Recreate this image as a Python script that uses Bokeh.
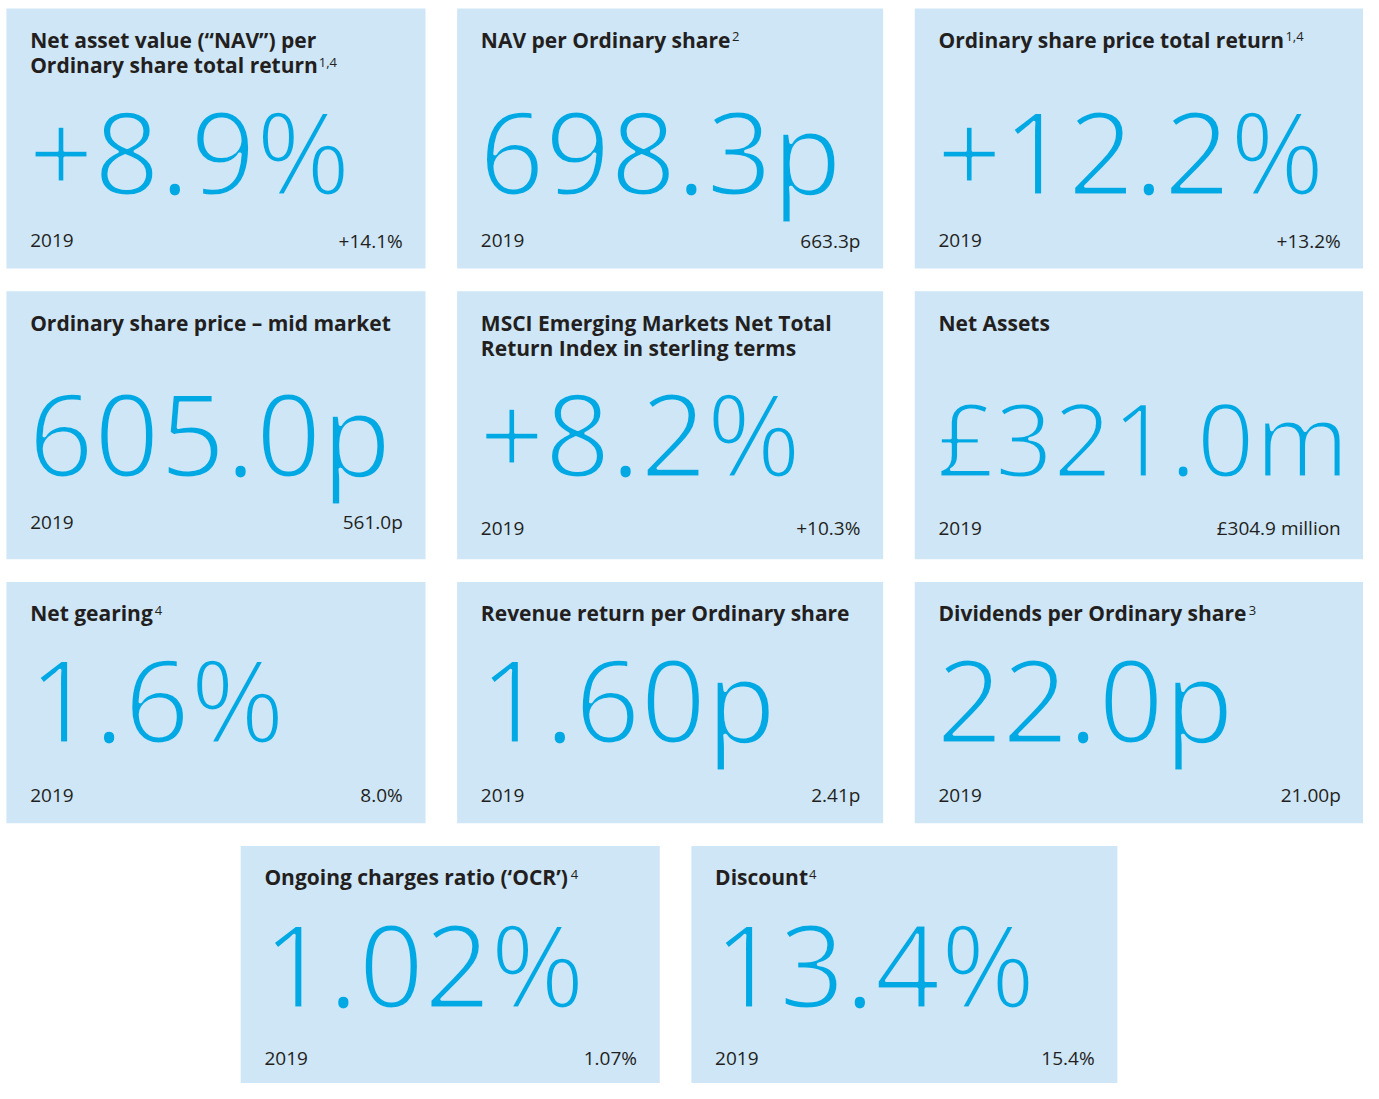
from bokeh.plotting import figure
from bokeh.models import ColumnDataSource, Range1d, CustomJS
from bokeh.document import Document
from bokeh.core.properties import value
from bokeh.embed import file_html
from bokeh.resources import INLINE

# ---- data ----
titles_line1 = [
    "Net asset value (\u201cNAV\u201d) per",
    "NAV per Ordinary share",
    "Ordinary share price total return",
    "Ordinary share price \u2013 mid market",
    "MSCI Emerging Markets Net Total",
    "Net Assets",
    "Net gearing",
    "Revenue return per Ordinary share",
    "Dividends per Ordinary share",
    "Ongoing charges ratio (\u2018OCR\u2019)",
    "Discount",
]
titles_line2 = [
    "Ordinary share total return",
    "", "", "",
    "Return Index in sterling terms",
    "", "", "", "", "", "",
]
footnotes = ["1,4", "2", "1,4", "", "", "", "4", "", "3", "4", "4"]
values_2020 = ["+8.9%", "698.3p", "+12.2%", "605.0p", "+8.2%", "\u00a3321.0m",
               "1.6%", "1.60p", "22.0p", "1.02%", "13.4%"]
values_2019 = ["+14.1%", "663.3p", "+13.2%", "561.0p", "+10.3%", "\u00a3304.9 million",
               "8.0%", "2.41p", "21.00p", "1.07%", "15.4%"]
prior_year = "2019"

# ---- layout (reference pixel space) ----
col_l = [6, 462, 925]
col_r = [430, 893, 1379]
row_t = [8, 295, 590, 858]
row_b = [272, 567, 835, 1099]
tile_left = col_l * 3 + [243, 699]
tile_right = col_r * 3 + [667, 1130]
tile_top = [row_t[0]] * 3 + [row_t[1]] * 3 + [row_t[2]] * 3 + [row_t[3]] * 2
tile_bottom = [row_b[0]] * 3 + [row_b[1]] * 3 + [row_b[2]] * 3 + [row_b[3]] * 2
big_off = [189] * 3 + [188] * 3 + [163] * 3 + [164] * 2
foot_off = [243] * 3 + [242, 248, 248] + [224] * 3 + [223] * 2
big_size = [115] * 5 + [102] + [115] * 5
# superscript x positions (end of the title line)
sup_x = [322, 740, 1300, 0, 0, 0, 156, 0, 1263, 577, 818]

BG = "#cfe6f7"
CYAN = "#00a8e4"
DARK = "#231f20"
TITLE_FONT = "Open Sans"
BIG_FONT = "Open Sans"
FOOT_FONT = "Open Sans"

TITLE_FS, FOOT_FS, SUP_FS = 21, 19, 13
K = 0.39  # baseline correction (fraction of em)

W, H = 1363, 1083
p = figure(width=W, height=H, output_backend="svg", toolbar_location=None,
           x_range=Range1d(0, 1379), y_range=Range1d(1099, 0),
           min_border=0, outline_line_color=None, background_fill_color="white",
           border_fill_color="white")
p.axis.visible = False
p.grid.visible = False

n = len(values_2020)
tiles = ColumnDataSource(dict(left=tile_left, right=tile_right, top=tile_top, bottom=tile_bottom))
p.quad(left="left", right="right", top="top", bottom="bottom", source=tiles,
       fill_color=BG, line_color=None)


def base(y, fs):
    return y - K * fs


# titles
t1 = ColumnDataSource(dict(x=[l + 24 for l in tile_left],
                           y=[base(t + 40, TITLE_FS) for t in tile_top], text=titles_line1))
p.text(x="x", y="y", text="text", source=t1, text_font=value(TITLE_FONT), text_font_size=f"{TITLE_FS}px",
       text_font_style="bold", text_color=DARK, text_baseline="alphabetic", text_align="left")
idx2 = [i for i in range(n) if titles_line2[i]]
t2 = ColumnDataSource(dict(x=[tile_left[i] + 24 for i in idx2],
                           y=[base(tile_top[i] + 66, TITLE_FS) for i in idx2],
                           text=[titles_line2[i] for i in idx2]))
p.text(x="x", y="y", text="text", source=t2, text_font=value(TITLE_FONT), text_font_size=f"{TITLE_FS}px",
       text_font_style="bold", text_color=DARK, text_baseline="alphabetic", text_align="left")

# superscripts
idxs = [i for i in range(n) if footnotes[i]]
sup_y = []
for i in idxs:
    b = tile_top[i] + (66 if titles_line2[i] else 40)
    sup_y.append(base(b - 6, SUP_FS))
ts = ColumnDataSource(dict(x=[sup_x[i] for i in idxs], y=sup_y, text=[footnotes[i] for i in idxs]))
p.text(x="x", y="y", text="text", source=ts, text_font=value(FOOT_FONT), text_font_size=f"{SUP_FS}px",
       text_color=DARK, text_baseline="alphabetic", text_align="left")

# big values
tb = ColumnDataSource(dict(x=[l + 22 for l in tile_left],
                           y=[base(t + o, s) for t, o, s in zip(tile_top, big_off, big_size)],
                           text=values_2020, fs=[f"{s}px" for s in big_size]))
p.text(x="x", y="y", text="text", source=tb, text_font=value(BIG_FONT), text_font_size="fs",
       text_color=CYAN, text_baseline="alphabetic", text_align="left")

# footers
fy = [base(t + o, FOOT_FS) for t, o in zip(tile_top, foot_off)]
tf1 = ColumnDataSource(dict(x=[l + 24 for l in tile_left], y=fy, text=[prior_year] * n))
p.text(x="x", y="y", text="text", source=tf1, text_font=value(FOOT_FONT), text_font_size=f"{FOOT_FS}px",
       text_color=DARK, text_baseline="alphabetic", text_align="left")
tf2 = ColumnDataSource(dict(x=[r - 23 for r in tile_right], y=fy, text=values_2019))
p.text(x="x", y="y", text="text", source=tf2, text_font=value(FOOT_FONT), text_font_size=f"{FOOT_FS}px",
       text_color=DARK, text_baseline="alphabetic", text_align="right")

# thin the large figures (light weight look) with a tile-coloured stroke over the fill
thin_js = """
function fix() {
  const walk = (root) => {
    root.querySelectorAll('*').forEach((el) => { if (el.shadowRoot) walk(el.shadowRoot); });
    root.querySelectorAll('text').forEach((t) => {
      const fs = parseFloat(getComputedStyle(t).fontSize);
      if (fs >= 90) {
        t.style.stroke = bg;
        t.style.strokeWidth = '3px';
        t.style.paintOrder = 'fill stroke';
        t.style.strokeLinejoin = 'round';
      }
    });
  };
  walk(document);
}
[50, 200, 500, 1000, 2000].forEach((ms) => setTimeout(fix, ms));
"""
doc = Document()
doc.add_root(p)
doc.js_on_event("document_ready", CustomJS(args=dict(bg=BG), code=thin_js))

open("out.html", "w").write(file_html(doc, INLINE))
